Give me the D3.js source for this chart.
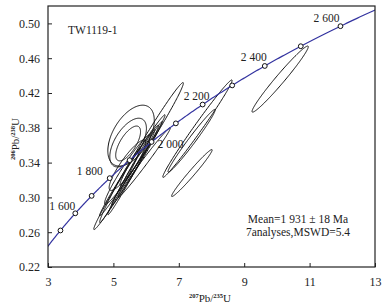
<!DOCTYPE html>
<html>
<head>
<meta charset="utf-8">
<script src="https://cdn.jsdelivr.net/npm/d3@7"></script>
<style>
  body { margin: 0; background: #fff; }
  text { font-family: "Liberation Serif", "DejaVu Serif", serif; fill: #222; }
</style>
</head>
<body>
<svg id="chart" width="391" height="308"></svg>
<script>
// analyses: 207Pb/235U, err, 206Pb/238U, err, rho
var pb207u235 = [5.54, 5.45, 5.45, 6.17, 5.58, 5.39, 5.43, 5.94, 5.43, 5.20, 5.55, 5.72, 7.57, 7.39, 7.40, 10.10];
var err207    = [0.71, 0.56, 0.38, 0.97, 1.00, 0.99, 0.70, 0.80, 0.56, 0.62, 0.72, 0.77, 1.06, 0.72, 0.62, 0.86];
var pb206u238 = [0.371, 0.363, 0.362, 0.373, 0.337, 0.323, 0.332, 0.340, 0.337, 0.314, 0.329, 0.339, 0.379, 0.365, 0.328, 0.436];
var err206    = [0.035, 0.028, 0.020, 0.059, 0.058, 0.060, 0.040, 0.040, 0.029, 0.043, 0.049, 0.048, 0.056, 0.036, 0.027, 0.038];
var rho       = [0.50, 0.58, 0.68, 0.988, 0.993, 0.990, 0.965, 0.991, 0.89, 0.986, 0.992, 0.993, 0.990, 0.983, 0.982, 0.979];

var markerAges = [1500, 1600, 1700, 1800, 1900, 2000, 2100, 2200, 2300, 2400, 2500, 2600];
var labelAges = [1600, 1800, 2000, 2200, 2400, 2600];
var xTicks = [3, 5, 7, 9, 11, 13];
var yTicks = [0.22, 0.26, 0.30, 0.34, 0.38, 0.42, 0.46, 0.50];

var sampleName = "TW1119-1";
var meanText = "Mean=1 931 \u00b1 18 Ma";
var analysesText = "7analyses,MSWD=5.4";

var L235 = 9.8485e-10, L238 = 1.55125e-10;

var svg = d3.select("#chart");
var pL = 48, pR = 375, pT = 6, pB = 267;

var x = d3.scaleLinear().domain([3, 13]).range([pL, pR]);
var y = d3.scaleLinear().domain([0.22, 0.52]).range([pB, pT]);

svg.append("defs").append("clipPath").attr("id", "plotclip")
  .append("rect").attr("x", pL).attr("y", pT)
  .attr("width", pR - pL).attr("height", pB - pT);

var plot = svg.append("g").attr("clip-path", "url(#plotclip)");

// error ellipses
var ellipses = pb207u235.map(function (cx, i) {
  return { cx: cx, sx: err207[i], cy: pb206u238[i], sy: err206[i], r: rho[i] };
});

var ellLine = d3.line().curve(d3.curveLinearClosed);

plot.selectAll("path.ell")
    .data(ellipses)
    .enter()
  .append("path")
    .attr("class", "ell")
    .attr("d", function (d) {
      var pts = d3.range(0, 2 * Math.PI, Math.PI / 90).map(function (t) {
        var px = d.cx + d.sx * Math.cos(t);
        var py = d.cy + d.sy * (d.r * Math.cos(t) + Math.sqrt(1 - d.r * d.r) * Math.sin(t));
        return [x(px), y(py)];
      });
      return ellLine(pts);
    })
    .attr("fill", "none")
    .attr("stroke", "#111")
    .attr("stroke-width", 1);

// concordia
function conc(tMa) {
  var t = tMa * 1e6;
  return [Math.exp(L235 * t) - 1, Math.exp(L238 * t) - 1];
}
var curve = d3.range(1300, 2800, 5).map(conc);
plot.append("path")
  .attr("d", d3.line().x(function (d) { return x(d[0]); }).y(function (d) { return y(d[1]); })(curve))
  .attr("fill", "none")
  .attr("stroke", "#3434a0")
  .attr("stroke-width", 1.2);

plot.selectAll("circle.age")
    .data(markerAges)
    .enter()
  .append("circle")
    .attr("class", "age")
    .attr("cx", function (d) { return x(conc(d)[0]); })
    .attr("cy", function (d) { return y(conc(d)[1]); })
    .attr("r", 2.4)
    .attr("fill", "#fff")
    .attr("stroke", "#111")
    .attr("stroke-width", 1);

var labelOffset = {
  1600: [-13, -3, "middle"], 1800: [-20, -3, "middle"], 2000: [6, 6, "start"],
  2200: [-6, -5, "middle"], 2400: [-11, -5, "middle"], 2600: [-14, -4, "middle"]
};
svg.selectAll("text.agelab")
    .data(labelAges)
    .enter()
  .append("text")
    .attr("class", "agelab")
    .attr("x", function (d) { return x(conc(d)[0]) + labelOffset[d][0]; })
    .attr("y", function (d) { return y(conc(d)[1]) + labelOffset[d][1]; })
    .attr("text-anchor", function (d) { return labelOffset[d][2]; })
    .attr("font-size", 11.5)
    .text(function (d) { return String(d).slice(0, 1) + " " + String(d).slice(1); });

// frame
svg.append("rect")
  .attr("x", pL).attr("y", pT)
  .attr("width", pR - pL).attr("height", pB - pT)
  .attr("fill", "none").attr("stroke", "#222").attr("stroke-width", 1.2);

// axes with inward ticks
var xAxis = d3.axisBottom(x).tickValues(xTicks).tickSize(-4).tickPadding(10).tickFormat(d3.format("d"));
var gx = svg.append("g").attr("transform", "translate(0," + pB + ")").call(xAxis);
var yAxis = d3.axisLeft(y).tickValues(yTicks).tickSize(-4).tickPadding(8).tickFormat(d3.format(".2f"));
var gy = svg.append("g").attr("transform", "translate(" + pL + ",0)").call(yAxis);
[gx, gy].forEach(function (g) {
  g.select(".domain").remove();
  g.selectAll("line").attr("stroke", "#222");
  g.selectAll("text").attr("font-size", 12).attr("font-family", "Liberation Serif").attr("fill", "#222");
});

// axis titles
var xl = svg.append("text").attr("x", 210).attr("y", 302).attr("text-anchor", "middle").attr("font-size", 11);
xl.append("tspan").attr("font-size", 6.5).attr("dy", -4).attr("font-weight", "bold").text("207");
xl.append("tspan").attr("dy", 4).text("Pb/");
xl.append("tspan").attr("font-size", 6.5).attr("dy", -4).attr("font-weight", "bold").text("235");
xl.append("tspan").attr("dy", 4).text("U");

var yl = svg.append("text").attr("transform", "translate(19,139) rotate(-90)").attr("text-anchor", "middle").attr("font-size", 11);
yl.append("tspan").attr("font-size", 6.5).attr("dy", -4).attr("font-weight", "bold").text("206");
yl.append("tspan").attr("dy", 4).text("Pb/");
yl.append("tspan").attr("font-size", 6.5).attr("dy", -4).attr("font-weight", "bold").text("238");
yl.append("tspan").attr("dy", 4).text("U");

svg.append("text").attr("x", 68).attr("y", 34).attr("font-size", 11.5).text(sampleName);
svg.append("text").attr("x", 298).attr("y", 223).attr("text-anchor", "middle").attr("font-size", 11.5).text(meanText);
svg.append("text").attr("x", 298).attr("y", 236).attr("text-anchor", "middle").attr("font-size", 11.5).text(analysesText);
</script>
</body>
</html>
